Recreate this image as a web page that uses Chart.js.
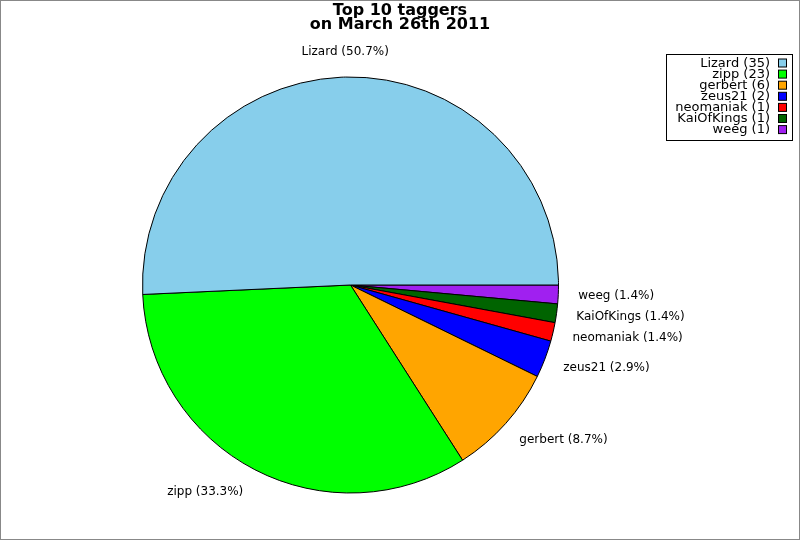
<!DOCTYPE html>
<html>
<head>
<meta charset="utf-8">
<script src="https://cdn.jsdelivr.net/npm/chart.js@4/dist/chart.umd.min.js"></script>
<style>
html,body{margin:0;padding:0;background:#fff;}
#wrap{width:800px;height:540px;position:relative;}
</style>
</head>
<body>
<div id="wrap"><canvas id="c" width="800" height="540"></canvas></div>
<script>
const titleLines = ["Top 10 taggers", "on March 26th 2011"];
const names = ["Lizard", "zipp", "gerbert", "zeus21", "neomaniak", "KaiOfKings", "weeg"];
const counts = [35, 23, 6, 2, 1, 1, 1];
const colors = ["#87CEEB", "#00FF00", "#FFA500", "#0000FF", "#FF0000", "#006400", "#A020F0"];

const total = counts.reduce((a, b) => a + b, 0);
// Chart.js draws clockwise; the reference runs counter-clockwise from 3 o'clock,
// so feed the series reversed and start at 3 o'clock.
const rNames = names.slice().reverse();
const rCounts = counts.slice().reverse();
const rColors = colors.slice().reverse();

const FONT = '"DejaVu Sans", sans-serif';

const decorPlugin = {
  id: 'decor',
  afterDraw(chart) {
    const ctx = chart.ctx;
    ctx.save();
    // outer frame
    ctx.strokeStyle = '#888';
    ctx.lineWidth = 1;
    ctx.strokeRect(0.5, 0.5, 799, 539);
    // title
    ctx.fillStyle = '#000';
    ctx.font = 'bold 16px ' + FONT;
    ctx.textAlign = 'center';
    ctx.textBaseline = 'middle';
    ctx.fillText(titleLines[0], 400, 11);
    ctx.fillText(titleLines[1], 400, 25);

    // slice labels
    const meta = chart.getDatasetMeta(0);
    ctx.font = '12px ' + FONT;
    meta.data.forEach((arc, i) => {
      const mid = (arc.startAngle + arc.endAngle) / 2;
      const c = Math.cos(mid);
      const d = arc.outerRadius + 25;
      let x = arc.x + c * d;
      const y = arc.y + Math.sin(mid) * d;
      if (c > 0.1) x -= 5;
      ctx.textAlign = Math.abs(c) < 0.1 ? 'center' : (c > 0 ? 'left' : 'right');
      const pct = (rCounts[i] / total * 100).toFixed(1);
      ctx.fillText(rNames[i] + ' (' + pct + '%)', x, y);
    });

    // legend
    const lx = 666.5, ly = 54.5, lw = 126, lh = 86;
    ctx.fillStyle = '#fff';
    ctx.fillRect(lx, ly, lw, lh);
    ctx.strokeStyle = '#000';
    ctx.strokeRect(lx, ly, lw, lh);
    ctx.textAlign = 'right';
    ctx.font = '13px ' + FONT;
    names.forEach((n, i) => {
      const yy = 63.5 + i * 11.1;
      ctx.fillStyle = '#000';
      ctx.fillText(n + ' (' + counts[i] + ')', 770, yy);
      ctx.fillStyle = colors[i];
      ctx.fillRect(778.5, yy - 4.5, 8, 8);
      ctx.strokeStyle = '#000';
      ctx.strokeRect(778.5, yy - 4.5, 8, 8);
    });
    ctx.restore();
  }
};

new Chart(document.getElementById('c'), {
  type: 'pie',
  data: {
    labels: rNames,
    datasets: [{
      data: rCounts,
      backgroundColor: rColors,
      borderColor: '#000',
      borderWidth: 1,
      borderAlign: 'center'
    }]
  },
  options: {
    responsive: false,
    animation: false,
    rotation: 90,
    layout: { padding: { left: 142, right: 241, top: 76, bottom: 46 } },
    plugins: {
      legend: { display: false },
      title: { display: false },
      tooltip: { enabled: false }
    }
  },
  plugins: [decorPlugin]
});
</script>
</body>
</html>
